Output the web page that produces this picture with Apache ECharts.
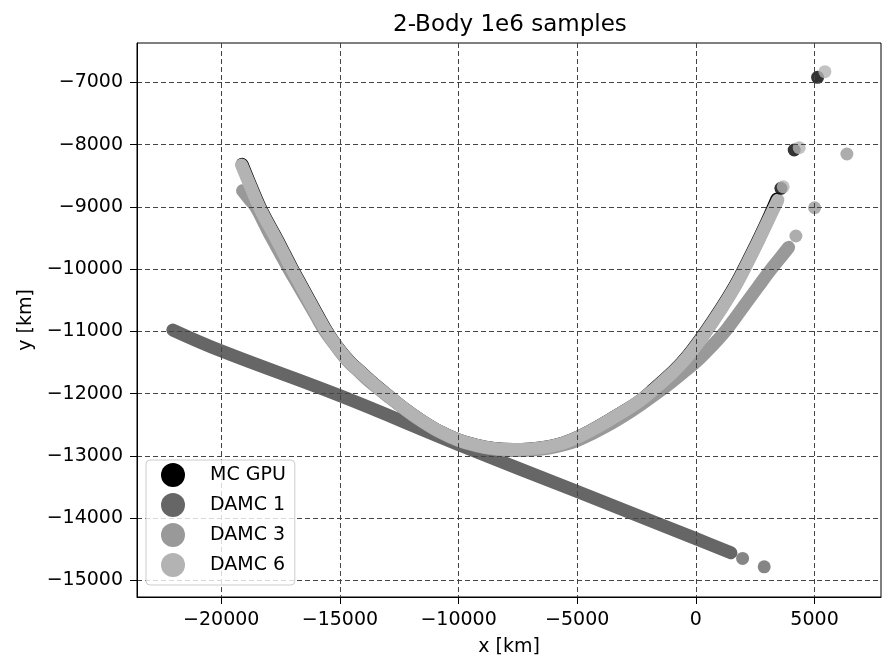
<!DOCTYPE html>
<html><head><meta charset="utf-8">
<script src="https://cdn.jsdelivr.net/npm/echarts@6.0.0/dist/echarts.min.js"></script>
<style>html,body{margin:0;padding:0;background:#fff}#c{width:882px;height:662px}</style>
</head><body><div id="c"></div>
<script>
// ---- data ----
const seriesNames = ['MC GPU', 'DAMC 1', 'DAMC 3', 'DAMC 6'];
const xTicks = [-20000, -15000, -10000, -5000, 0, 5000];
const yTicks = [-15000, -14000, -13000, -12000, -11000, -10000, -9000, -8000, -7000];

// dense sample bands (centre line of each band)
const mcGpuBand = [[-19119,-8318],[-18749,-8665],[-18369,-9003],[-18032,-9252],[-17674,-9501],[-17337,-9749],[-17000,-9998],[-16641,-10247],[-16283,-10496],[-15925,-10745],[-15567,-10986],[-15116,-11243],[-14611,-11476],[-14231,-11612],[-13810,-11757],[-13431,-11885],[-13021,-12014],[-12305,-12231],[-11589,-12424],[-10788,-12608],[-9987,-12745],[-9271,-12825],[-8512,-12878],[-7712,-12897],[-6953,-12886],[-6195,-12849],[-5605,-12793],[-4972,-12697],[-4298,-12565],[-3582,-12407],[-2950,-12263],[-2318,-12102],[-1753,-11918],[-1163,-11717],[-657,-11524],[-236,-11339],[396,-11010],[1029,-10649],[1576,-10312],[2040,-9982],[2503,-9629],[2967,-9260],[3410,-8875]];
const mcGpuPoints = [[3582,-8702],[4142,-8087],[5128,-6920]];

const damc1Band = [[-22039,-10978],[-19987,-11315],[-14960,-12038],[-9987,-12818],[-4972,-13575],[0,-14327],[1475,-14555]];
const damc1Points = [[1968,-14645],[2878,-14779]];

const damc3Band = [[-19102,-8741],[-18816,-8874],[-18542,-9003],[-18204,-9252],[-17867,-9501],[-17509,-9749],[-17151,-9998],[-16772,-10247],[-16392,-10496],[-16013,-10745],[-15634,-10994],[-15170,-11235],[-14665,-11476],[-14264,-11620],[-13864,-11765],[-13464,-11893],[-13042,-12022],[-12305,-12239],[-11589,-12432],[-10788,-12616],[-9987,-12753],[-9271,-12833],[-8512,-12889],[-7712,-12913],[-6953,-12905],[-6195,-12873],[-5605,-12825],[-4972,-12745],[-4298,-12624],[-3582,-12480],[-2950,-12335],[-2318,-12174],[-1728,-12014],[-1138,-11845],[-590,-11677],[0,-11492],[632,-11251],[1222,-11002],[1686,-10769],[2149,-10528],[2613,-10287],[3076,-10047],[3498,-9846],[3906,-9650]];
const damc3Points = [[4214,-9468],[5002,-9014],[6363,-8151]];

const damc6Band = [[-19144,-8328],[-18774,-8665],[-18394,-9003],[-18057,-9252],[-17699,-9501],[-17362,-9749],[-17025,-9998],[-16666,-10247],[-16308,-10496],[-15950,-10745],[-15592,-10986],[-15128,-11243],[-14623,-11476],[-14243,-11612],[-13822,-11757],[-13443,-11885],[-13021,-12014],[-12305,-12231],[-11589,-12424],[-10788,-12608],[-9987,-12745],[-9271,-12825],[-8512,-12878],[-7712,-12897],[-6953,-12886],[-6195,-12849],[-5605,-12793],[-4972,-12697],[-4298,-12565],[-3582,-12407],[-2950,-12263],[-2318,-12102],[-1728,-11918],[-1138,-11717],[-632,-11524],[-211,-11339],[421,-11010],[1054,-10649],[1601,-10312],[2065,-9982],[2528,-9629],[2992,-9260],[3455,-8890]];
const damc6Points = [[3679,-8677],[4353,-8050],[5436,-6830]];

// ---- styling ----
const colors = ['#000000', '#666666', '#999999', '#b3b3b3'];
const FONT = 'DejaVu Sans';
const minus = v => String(v).replace('-', '\u2212');

const bands = [mcGpuBand, damc1Band, damc3Band, damc6Band];
const points = [mcGpuPoints, damc1Points, damc3Points, damc6Points];

const series = [];
seriesNames.forEach((name, i) => {
  series.push({
    name, type: 'line', data: bands[i], symbol: 'none', smooth: 0.4,
    itemStyle: {color: colors[i]},
    lineStyle: {color: colors[i], width: 13, cap: 'round', join: 'round'},
    z: 2, silent: true
  });
  series.push({
    name, type: 'scatter', data: points[i], symbol: 'circle', symbolSize: 13,
    itemStyle: {color: colors[i]}, z: 2, silent: true
  });
});

const chart = echarts.init(document.getElementById('c'), null, {renderer: 'canvas'});
chart.setOption({
  animation: false,
  backgroundColor: '#ffffff',
  textStyle: {fontFamily: FONT},
  title: {
    text: '2-Body 1e6 samples', left: 388, top: 9,
    textStyle: {fontFamily: FONT, fontSize: 23, fontWeight: 'normal', color: '#000'}
  },
  grid: {left: 137, right: 1, top: 43, bottom: 65, show: true, borderColor: '#000', borderWidth: 1, backgroundColor: 'transparent', containLabel: false},
  legend: {
    data: seriesNames, orient: 'vertical', left: 146, top: 460, z: 10,
    icon: 'circle', itemWidth: 24, itemHeight: 24, itemGap: 6,
    padding: [3, 9, 8, 15],
    borderColor: '#cccccc', borderWidth: 1, borderRadius: 4,
    backgroundColor: 'rgba(255,255,255,0.8)',
    textStyle: {fontFamily: FONT, fontSize: 19, color: '#000', padding: [0, 0, 0, 20]},
    selectedMode: false
  },
  xAxis: {
    type: 'value', min: -23550, max: 7800, z: 3,
    name: 'x [km]', nameLocation: 'middle', nameGap: 41,
    nameTextStyle: {fontFamily: FONT, fontSize: 19, color: '#000'},
    axisLine: {show: true, onZero: false, lineStyle: {color: '#000', width: 1}},
    axisTick: {show: true, length: 7, customValues: xTicks, lineStyle: {color: '#000', width: 1}},
    axisLabel: {customValues: xTicks, fontFamily: FONT, fontSize: 19, color: '#000', margin: 14, formatter: minus},
    splitLine: {show: true, lineStyle: {color: '#444', width: 1, type: [5, 3]}}
  },
  yAxis: {
    type: 'value', min: -15264, max: -6369, z: 3,
    name: 'y [km]', nameLocation: 'middle', nameGap: 96, nameRotate: 90,
    nameTextStyle: {fontFamily: FONT, fontSize: 19, color: '#000'},
    axisLine: {show: true, onZero: false, lineStyle: {color: '#000', width: 1}},
    axisTick: {show: true, length: 7, customValues: yTicks, lineStyle: {color: '#000', width: 1}},
    axisLabel: {customValues: yTicks, fontFamily: FONT, fontSize: 19, color: '#000', margin: 14, formatter: minus},
    splitLine: {show: true, lineStyle: {color: '#444', width: 1, type: [5, 3]}}
  },
  series
});
</script></body></html>
